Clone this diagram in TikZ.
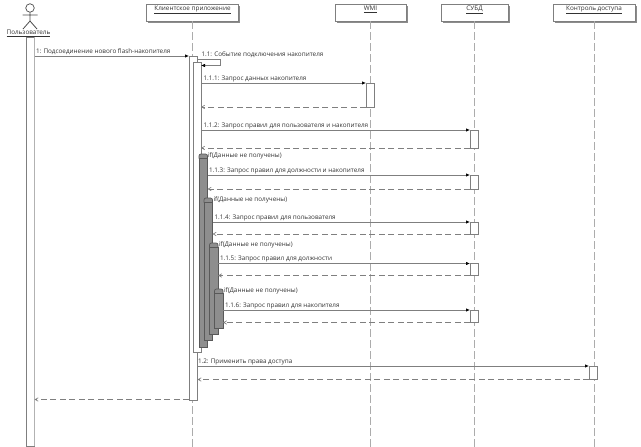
\documentclass[tikz,border=0pt]{standalone}
\usepackage{fontspec}
\setmainfont{Open Sans}
\usepackage{xcolor}
\usetikzlibrary{arrows.meta,positioning,shadows}

\definecolor{inkgray}{HTML}{333333}
\definecolor{linegray}{HTML}{7F7F7F}
\definecolor{altgray}{HTML}{8E8E8E}

\begin{document}
\begin{tikzpicture}[
            x=1pt, y=-1pt,
            every node/.style={font=\fontsize{6.35}{8}\selectfont, text=inkgray, outer sep=0pt, inner sep=0pt},
            object/.style={rectangle, draw=linegray, line width=0.7pt, fill=white, minimum width=#1, minimum height=17pt, anchor=north, text depth=8pt, drop shadow={shadow xshift=1.8pt, shadow yshift=-1.8pt, fill=gray!90, opacity=1}},
            bar/.style={rectangle, draw=linegray, line width=0.7pt, fill=white, minimum width=8.5pt, anchor=north west},
            alt/.style={rectangle, draw=black!65, line width=0.7pt, fill=altgray, minimum width=8.5pt, anchor=north west},
            altcap/.style={rectangle, rounded corners=2pt, draw=black!65, line width=0.7pt, fill=altgray, minimum width=8.5pt, minimum height=6pt, anchor=north west},
            lifeline/.style={draw=gray!65, dash pattern=on 8pt off 3pt, line width=0.8pt},
            msg/.style={draw=linegray, line width=0.7pt, -{Latex[length=4pt,width=3.4pt,black]}},
            reply/.style={draw=linegray, line width=0.7pt, dash pattern=on 6pt off 3.5pt, -{Straight Barb[length=3pt,width=3.4pt]}},
            msglabel/.style={anchor=base west},
            iflabel/.style={anchor=base west}
        ]
        \useasboundingbox (0,0) rectangle (641,447);

        % Objects
        \node [object=92pt] (client) at (192.5,4) {\underline{Клиентское приложение}};
        \node [object=71pt] (wmi) at (370.5,4) {\underline{WMI}};
        \node [object=67pt] (dbms) at (474.5,4) {\underline{СУБД}};
        \node [object=82pt] (access) at (594,4) {\underline{Контроль доступа}};

        % Actor
        \node [circle, draw=black!70, line width=0.7pt, fill=white, minimum size=8.5pt] (head) at (30,8) {};
        \coordinate (hip) at (30,21);
        \coordinate (handl) at (22.5,15);
        \coordinate (handr) at (37.5,15);
        \coordinate (footl) at (23,29);
        \coordinate (footr) at (37,29);
        \draw [draw=black!70, line width=0.8pt] (head) -- (hip) (handl) -- (handr) (footl) -- (hip) -- (footr);
        \node [anchor=base] (user) at (28.5,34.5) {\underline{Пользователь}};

        % Lifelines
        \coordinate (bottom) at (0,447);
        \draw [lifeline] (client.south) -- (client.south |- bottom);
        \draw [lifeline] (wmi.south) -- (wmi.south |- bottom);
        \draw [lifeline] (dbms.south) -- (dbms.south |- bottom);
        \draw [lifeline] (access.south) -- (access.south |- bottom);

        % Activations
        \node [bar, minimum height=409pt] (userbar) at (26,37) {};
        \draw [draw=gray!60, line width=1pt] (userbar.north east) -- (userbar.south east);
        \node [bar, minimum height=344pt] (clientbar) at (189,56) {};
        \node [bar, minimum height=290pt, minimum width=7.5pt] (innerbar) at (193.5,62) {};
        \node [bar, minimum height=24pt] (wmibar) at (366,83) {};
        \node [bar, minimum height=18pt] (dbbara) at (470,130) {};
        \node [bar, minimum height=14pt] (dbbarb) at (470,175) {};
        \node [bar, minimum height=12pt] (dbbarc) at (470,222) {};
        \node [bar, minimum height=12pt] (dbbard) at (470,263.5) {};
        \node [bar, minimum height=12.5pt] (dbbare) at (470,310) {};
        \node [bar, minimum height=13.5pt] (accessbar) at (589,366) {};

        % Alternative blocks
        \node [altcap] (capa) at (199,154) {};
        \node [alt, minimum height=189pt] (alta) at (199,158) {};
        \node [altcap] (capb) at (204,198) {};
        \node [alt, minimum height=138pt] (altb) at (204,202) {};
        \node [altcap] (capc) at (209.5,243) {};
        \node [alt, minimum height=87pt] (altc) at (209.5,247) {};
        \node [altcap] (capd) at (214.5,289) {};
        \node [alt, minimum height=35pt] (altd) at (214.5,293) {};

        % Message rows
        \coordinate (rowa) at (0,56);
        \coordinate (rowb) at (0,83);
        \coordinate (rowc) at (0,107);
        \coordinate (rowd) at (0,130);
        \coordinate (rowe) at (0,148);
        \coordinate (rowf) at (0,175);
        \coordinate (rowg) at (0,189);
        \coordinate (rowh) at (0,222);
        \coordinate (rowi) at (0,234);
        \coordinate (rowj) at (0,263.5);
        \coordinate (rowk) at (0,275.5);
        \coordinate (rowl) at (0,310);
        \coordinate (rowm) at (0,322.5);
        \coordinate (rown) at (0,366);
        \coordinate (rowo) at (0,379.5);
        \coordinate (rowp) at (0,399.5);
        \coordinate (turna) at (220,59);
        \coordinate (turnb) at (220,65.5);

        % Edges
        \path [msg] (userbar.east |- rowa) -- (clientbar.west |- rowa);
        \path [msg] (clientbar.east |- turna) -- (turna) -- (turnb) -- (innerbar.east |- turnb);
        \path [msg] (innerbar.east |- rowb) -- (wmibar.west |- rowb);
        \path [reply] (wmibar.west |- rowc) -- (innerbar.east |- rowc);
        \path [msg] (innerbar.east |- rowd) -- (dbbara.west |- rowd);
        \path [reply] (dbbara.west |- rowe) -- (innerbar.east |- rowe);
        \path [msg] (alta.east |- rowf) -- (dbbarb.west |- rowf);
        \path [reply] (dbbarb.west |- rowg) -- (alta.east |- rowg);
        \path [msg] (altb.east |- rowh) -- (dbbarc.west |- rowh);
        \path [reply] (dbbarc.west |- rowi) -- (altb.east |- rowi);
        \path [msg] (altc.east |- rowj) -- (dbbard.west |- rowj);
        \path [reply] (dbbard.west |- rowk) -- (altc.east |- rowk);
        \path [msg] (altd.east |- rowl) -- (dbbare.west |- rowl);
        \path [reply] (dbbare.west |- rowm) -- (altd.east |- rowm);
        \path [msg] (clientbar.east |- rown) -- (accessbar.west |- rown);
        \path [reply] (accessbar.west |- rowo) -- (clientbar.east |- rowo);
        \path [reply] (clientbar.west |- rowp) -- (userbar.east |- rowp);

        % Labels
        \node [msglabel] (la) at (36,53) {1: Подсоединение нового flash-накопителя};
        \node [msglabel] (lb) at (201.5,56.5) {1.1: Событие подключения накопителя};
        \node [msglabel] (lc) at (203.5,80) {1.1.1: Запрос данных накопителя};
        \node [msglabel] (ld) at (203.5,127) {1.1.2: Запрос правил для пользователя и накопителя};
        \node [iflabel] (ife) at (208,157.5) {if(Данные не получены)};
        \node [msglabel] (lf) at (209,172) {1.1.3: Запрос правил для должности и накопителя};
        \node [iflabel] (ifg) at (213.5,201.5) {if(Данные не получены)};
        \node [msglabel] (lh) at (214.5,219) {1.1.4: Запрос правил для пользователя};
        \node [iflabel] (ifi) at (219,246.5) {if(Данные не получены)};
        \node [msglabel] (lj) at (220,260.5) {1.1.5: Запрос правил для должности};
        \node [iflabel] (ifk) at (224,292.5) {if(Данные не получены)};
        \node [msglabel] (ll) at (225,307) {1.1.6: Запрос правил для накопителя};
        \node [msglabel] (ln) at (198,363) {1.2: Применить права доступа};

    \end{tikzpicture}
\end{document}
